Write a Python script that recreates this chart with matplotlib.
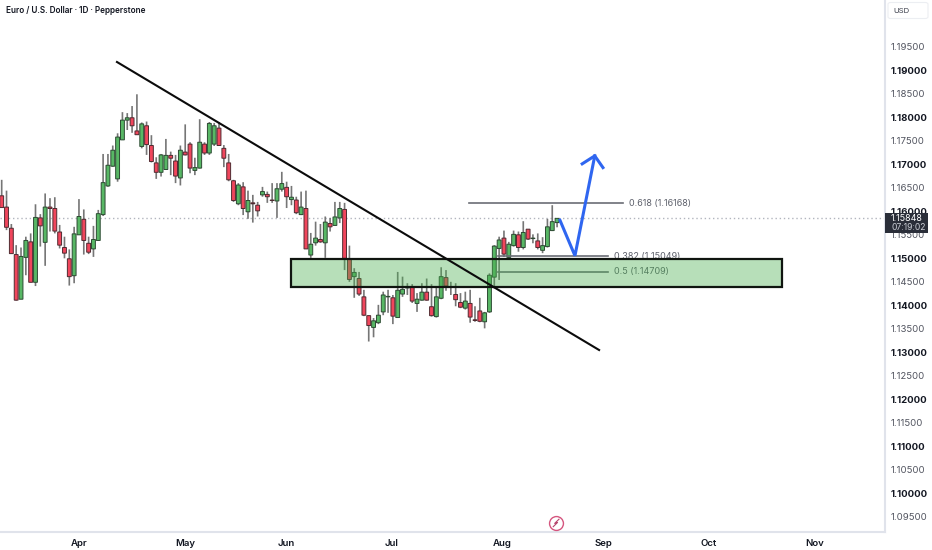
import numpy as np
import matplotlib
matplotlib.use("Agg")
import matplotlib.pyplot as plt
from matplotlib.patches import Rectangle, FancyBboxPatch

plt.rcParams['font.family'] = ['Inter', 'DejaVu Sans']

# daily candles
opens = [1.1633,1.1609,1.1564,1.1508,1.1413,1.1502,1.1535,1.1449,1.1586,1.1534,
         1.1609,1.1606,1.1556,1.1523,1.1499,1.1463,1.1550,1.1583,1.1532,1.1520,
         1.1538,1.1593,1.1654,1.1696,1.1669,1.1752,1.1794,1.1799,1.1771,1.1738,
         1.1782,1.1740,1.1703,1.1683,1.1689,1.1719,1.1707,1.1671,1.1726,1.1743,
         1.1687,1.1692,1.1743,1.1724,1.1743,1.1777,1.1734,1.1703,1.1665,1.1616,
         1.1652,1.1599,1.1618,1.1613,1.1635,1.1636,1.1624,1.1622,1.1647,1.1651,
         1.1625,1.1624,1.1593,1.1606,1.1507,1.1533,1.1540,1.1533,1.1574,1.1570,
         1.1586,1.1604,1.1498,1.1461,1.1457,1.1418,1.1378,1.1353,1.1363,1.1386,
         1.1418,1.1416,1.1374,1.1424,1.1437,1.1438,1.1404,1.1411,1.1428,1.1397,
         1.1376,1.1415,1.1459,1.1440,1.1423,1.1406,1.1394,1.1404,1.1369,1.1388,
         1.1365,1.1386,1.1460,1.1521,1.1543,1.1502,1.1527,1.1550,1.1523,1.1562,
         1.1542,1.1537,1.1517,1.1525,1.1559,1.1576]
highs = [1.1667,1.1644,1.1573,1.1528,1.1523,1.1546,1.1553,1.1615,1.1594,1.1638,
         1.1628,1.1630,1.1571,1.1546,1.1519,1.1567,1.1626,1.1604,1.1546,1.1569,
         1.1603,1.1722,1.1722,1.1740,1.1766,1.1811,1.1809,1.1824,1.1849,1.1789,
         1.1791,1.1762,1.1715,1.1722,1.1754,1.1727,1.1720,1.1740,1.1785,1.1747,
         1.1714,1.1796,1.1747,1.1790,1.1788,1.1790,1.1741,1.1722,1.1667,1.1660,
         1.1662,1.1644,1.1635,1.1620,1.1652,1.1642,1.1660,1.1660,1.1684,1.1663,
         1.1654,1.1631,1.1642,1.1644,1.1554,1.1578,1.1573,1.1589,1.1586,1.1620,
         1.1620,1.1618,1.1527,1.1479,1.1471,1.1433,1.1379,1.1373,1.1401,1.1429,
         1.1433,1.1422,1.1471,1.1461,1.1447,1.1445,1.1426,1.1447,1.1457,1.1445,
         1.1440,1.1481,1.1475,1.1450,1.1447,1.1426,1.1429,1.1433,1.1398,1.1416,
         1.1386,1.1468,1.1528,1.1546,1.1559,1.1535,1.1559,1.1557,1.1579,1.1562,
         1.1551,1.1553,1.1545,1.1584,1.1613,1.1585]
lows = [1.1608,1.1560,1.1510,1.1410,1.1413,1.1464,1.1449,1.1441,1.1525,1.1484,
        1.1557,1.1553,1.1521,1.1500,1.1442,1.1447,1.1550,1.1508,1.1509,1.1503,
        1.1537,1.1590,1.1652,1.1695,1.1663,1.1752,1.1773,1.1767,1.1763,1.1734,
        1.1720,1.1704,1.1669,1.1674,1.1688,1.1677,1.1660,1.1655,1.1719,1.1681,
        1.1677,1.1691,1.1720,1.1720,1.1739,1.1739,1.1694,1.1664,1.1620,1.1613,
        1.1592,1.1584,1.1576,1.1589,1.1631,1.1618,1.1618,1.1586,1.1642,1.1607,
        1.1613,1.1594,1.1592,1.1520,1.1501,1.1527,1.1533,1.1501,1.1557,1.1569,
        1.1575,1.1475,1.1450,1.1416,1.1420,1.1377,1.1323,1.1332,1.1360,1.1379,
        1.1384,1.1360,1.1374,1.1418,1.1422,1.1405,1.1386,1.1410,1.1410,1.1376,
        1.1374,1.1413,1.1431,1.1422,1.1398,1.1394,1.1391,1.1363,1.1365,1.1364,
        1.1351,1.1384,1.1436,1.1454,1.1503,1.1500,1.1525,1.1514,1.1519,1.1539,
        1.1532,1.1519,1.1511,1.1523,1.1558,1.1566]
closes = [1.1608,1.1566,1.1510,1.1411,1.1504,1.1538,1.1449,1.1587,1.1569,1.1609,
          1.1606,1.1558,1.1528,1.1511,1.1461,1.1552,1.1589,1.1538,1.1513,1.1540,
          1.1595,1.1661,1.1698,1.1730,1.1758,1.1794,1.1799,1.1782,1.1763,1.1786,
          1.1742,1.1706,1.1683,1.1720,1.1719,1.1713,1.1675,1.1730,1.1720,1.1692,
          1.1693,1.1747,1.1724,1.1787,1.1782,1.1740,1.1713,1.1667,1.1623,1.1656,
          1.1606,1.1623,1.1616,1.1601,1.1642,1.1631,1.1623,1.1648,1.1659,1.1631,
          1.1630,1.1597,1.1609,1.1520,1.1530,1.1543,1.1535,1.1577,1.1567,1.1588,
          1.1606,1.1500,1.1455,1.1470,1.1424,1.1379,1.1357,1.1367,1.1379,1.1422,
          1.1419,1.1377,1.1432,1.1434,1.1438,1.1409,1.1413,1.1428,1.1411,1.1378,
          1.1418,1.1461,1.1441,1.1438,1.1412,1.1396,1.1409,1.1375,1.1368,1.1366,
          1.1384,1.1464,1.1526,1.1539,1.1509,1.1530,1.1551,1.1523,1.1555,1.1541,
          1.1543,1.1523,1.1527,1.1567,1.1578,1.1585]

month_labels = ['Apr', 'May', 'Jun', 'Jul', 'Aug', 'Sep', 'Oct', 'Nov']
month_pos = [16, 38, 58.9, 80.8, 103.6, 124.5, 146.4, 168.4]
price_ticks = [1.095, 1.10, 1.105, 1.11, 1.115, 1.12, 1.125, 1.13, 1.135, 1.14, 1.145,
               1.15, 1.155, 1.16, 1.165, 1.17, 1.175, 1.18, 1.185, 1.19, 1.195]
last_price = 1.15848

# drawings on the chart
trend_x = [23.87, 123.7]
trend_y = [1.19177, 1.13049]
zone_x = [59.9, 161.6]
zone_y = [1.1438, 1.14995]
fib_levels = [1.16168, 1.15049, 1.14709]
fib_names = ['0.618 (1.16168)', '0.382 (1.15049)', '0.5 (1.14709)']
fib_start = [96.7, 102.8, 102.8]
fib_end = [128.6, 125.5, 125.5]
arrow_x = [115.6, 118.7, 122.8]
arrow_y = [1.1581, 1.15055, 1.1718]
head_x = [120.2, 122.8, 124.5]
head_y = [1.1701, 1.1718, 1.1693]

W, H = 932, 550
fig = plt.figure(figsize=(W / 100, H / 100), dpi=100)
ax = fig.add_axes([0, 18 / H, 885 / W, 532 / H])
ax.set_xlim(-0.35, 182.9)
ax.set_ylim(1.09177, 1.20496)

x = np.arange(len(opens))
o = np.array(opens)
c = np.array(closes)
up = c >= o

# candles
wicks = ax.vlines(x, lows, highs, color='#767676', lw=1.2, zorder=2)
wicks.set_snap(False)
green = ax.bar(x[up], (c - o)[up], bottom=o[up], width=0.8, color='#58b765',
               edgecolor='#2c4a32', lw=0.7, zorder=3)
red = ax.bar(x[~up], (o - c)[~up], bottom=c[~up], width=0.8, color='#f0465c',
             edgecolor='#4f2a30', lw=0.7, zorder=3)
for b in list(green) + list(red):
    b.set_snap(False)

ax.axhline(last_price, color='#b2b5be', lw=1, ls=(0, (1, 2)), zorder=1)

# fib levels
for lev, name, x0, x1 in zip(fib_levels, fib_names, fib_start, fib_end):
    ax.plot([x0, x1], [lev, lev], color='#6b6d75', lw=1.2, zorder=4)
    ax.text(x1 + 1.25, lev, name, color='#5d606b', fontsize=6.5, va='center', zorder=4)

# demand zone
ax.add_patch(Rectangle((zone_x[0], zone_y[0]), zone_x[1] - zone_x[0], zone_y[1] - zone_y[0],
                       facecolor=(0.294, 0.686, 0.314, 0.4), edgecolor='#101510', lw=1.6, zorder=5))

# trend line and projected move
ax.plot(trend_x, trend_y, color='#0b0b0b', lw=1.5, zorder=6)
ax.plot(arrow_x, arrow_y, color='#2f66f0', lw=2.2, zorder=7, solid_joinstyle='miter')
ax.plot(head_x, head_y, color='#2f66f0', lw=2.2, zorder=7, solid_joinstyle='miter')

# lightning badge
ax.plot([114.8], [1.0937], marker='o', ms=10, mfc='white', mec='#d5567f', mew=1.0, zorder=7)
ax.plot([115.4, 114.5, 115.1, 114.2], [1.0945, 1.0936, 1.0938, 1.0929], color='#b5446c', lw=0.8, zorder=8)

# axes
for side in ['top', 'left']:
    ax.spines[side].set_visible(False)
for side in ['right', 'bottom']:
    ax.spines[side].set_color('#e0e3eb')
    ax.spines[side].set_linewidth(1.5)

ax.set_xticks(month_pos)
ax.set_xticklabels(month_labels, fontsize=6.9, fontweight='semibold', color='#131722')
ax.tick_params(axis='x', length=0, pad=5)
ax.yaxis.tick_right()
ax.set_yticks(price_ticks)
ax.set_yticklabels(['%.5f' % t for t in price_ticks], fontsize=6.9)
ax.tick_params(axis='y', length=0, pad=4.3)
for lab, t in zip(ax.get_yticklabels(), price_ticks):
    if round(t * 100) == round(t * 100, 4):
        lab.set_fontweight('bold')
        lab.set_color('#131722')
    else:
        lab.set_color('#50535e')

# price tag on the scale
tag = Rectangle((885 / W, 1 - 233 / H), 43 / W, 20 / H, transform=fig.transFigure,
                facecolor='#2a2e39', edgecolor='none', clip_on=False, zorder=20)
ax.add_patch(tag)
ax.text(891 / W, 1 - 218.7 / H, '1.15848', transform=fig.transFigure, color='white',
        fontsize=6.4, va='center', zorder=21)
ax.text(891 / W, 1 - 228 / H, '07:19:02', transform=fig.transFigure, color='#c9ccd4',
        fontsize=6.2, va='center', zorder=21)

# currency button
fig.add_artist(FancyBboxPatch((888 / W, 1 - 18.5 / H), 40 / W, 16 / H, transform=fig.transFigure,
                              boxstyle='round,pad=0,rounding_size=0.003', facecolor='white',
                              edgecolor='#eceef2', lw=0.8))
fig.text(893 / W, 1 - 11 / H, 'USD', color='#3a3e4a', fontsize=5.6, va='center')

fig.text(5.5 / W, 1 - 10.5 / H, 'Euro / U.S. Dollar · 1D · Pepperstone', color='#131722',
         fontsize=5.9, fontweight='semibold', va='center')

fig.savefig('out.png', dpi=100)
